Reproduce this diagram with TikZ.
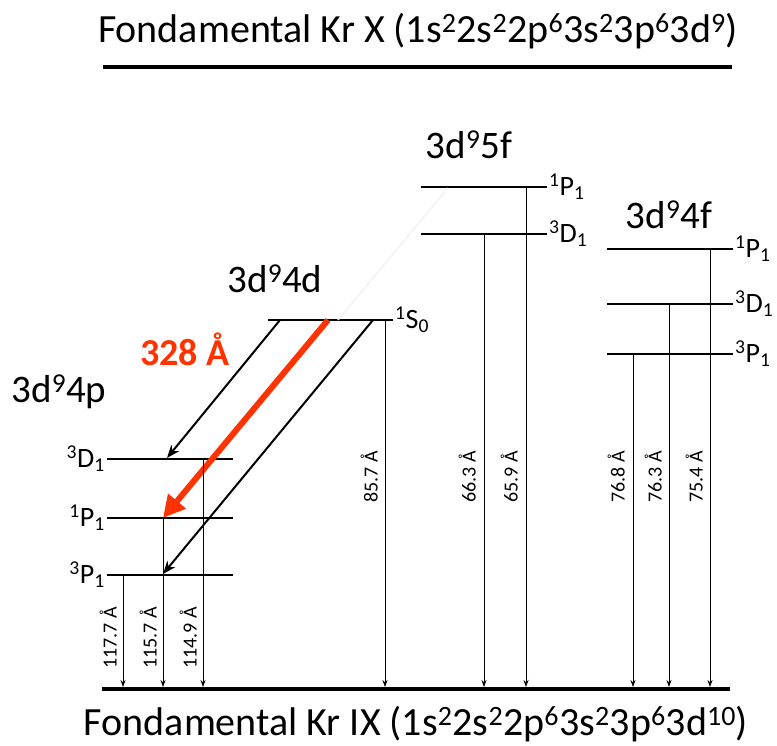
\documentclass[tikz,border=0pt]{standalone}
\usepackage{fontspec}
\setmainfont{Carlito}
\usetikzlibrary{arrows.meta}
\definecolor{laserred}{RGB}{255,51,0}
\newcommand{\up}[1]{\textsuperscript{#1}}
\begin{document}
\begin{tikzpicture}[x=1pt,y=-1pt,
	level/.style={ line width=1.1pt },
	ground/.style={ line width=4pt },
	title/.style={ font=\fontsize{40}{42}\selectfont, anchor=base, inner sep=0pt },
	config/.style={ font=\fontsize{39}{42}\selectfont, anchor=base, inner sep=0pt },
	term/.style={ font=\fontsize{28}{30}\selectfont, inner sep=2pt },
	wave/.style={ font=\fontsize{20}{22}\selectfont, rotate=90, anchor=south, inner sep=0pt },
	decay/.style={ -{Stealth[length=7pt,width=5pt]}, line width=0.7pt, shorten >=2pt },
	cascade/.style={ -{Stealth[length=13pt,width=10pt]}, line width=2pt },
	laser/.style={ laserred, -{Triangle[length=22pt,width=22pt]}, line width=6pt }
]
	\useasboundingbox (0,0) rectangle (777,745);
	\node at (418,42) (kr10) [title] {Fondamental Kr X (1s\up{2}2s\up{2}2p\up{6}3s\up{2}3p\up{6}3d\up{9})};
	\node at (416,735) (kr9) [title] {Fondamental Kr IX (1s\up{2}2s\up{2}2p\up{6}3s\up{2}3p\up{6}3d\up{10})};
	\coordinate (ion0) at (103,67);
	\coordinate (ion1) at (732,67);
	\coordinate (gnd0) at (102,689);
	\coordinate (gnd1) at (730,689);
	\draw[ground] (ion0) -- (ion1);
	\draw[ground] (gnd0) -- (gnd1);

	\node at (59,402) (c4p) [config] {3d\up{9}4p};
	\node at (275,292) (c4d) [config] {3d\up{9}4d};
	\node at (469,158) (c5f) [config] {3d\up{9}5f};
	\node at (669,228) (c4f) [config] {3d\up{9}4f};

	\coordinate (p4D1a) at (107,459);
	\coordinate (p4D1b) at (233,459);
	\coordinate (p4P1a) at (107,518);
	\coordinate (p4P1b) at (233,518);
	\coordinate (p4T1a) at (107,575);
	\coordinate (p4T1b) at (233,575);
	\coordinate (d4S0a) at (268,320);
	\coordinate (d4S0b) at (393,320);
	\coordinate (f5P1a) at (421,187);
	\coordinate (f5P1b) at (547,187);
	\coordinate (f5D1a) at (421,234);
	\coordinate (f5D1b) at (547,234);
	\coordinate (f4P1a) at (607,249);
	\coordinate (f4P1b) at (733,249);
	\coordinate (f4D1a) at (607,304);
	\coordinate (f4D1b) at (733,304);
	\coordinate (f4T1a) at (607,354);
	\coordinate (f4T1b) at (733,354);
	\foreach \lv in {p4D1,p4P1,p4T1,d4S0,f5P1,f5D1,f4P1,f4D1,f4T1}
		\draw[level] (\lv a) -- (\lv b);

	\node at (p4D1a) (tp4D1) [term,anchor=east] {\up{3}D\textsubscript{1}};
	\node at (p4P1a) (tp4P1) [term,anchor=east] {\up{1}P\textsubscript{1}};
	\node at (p4T1a) (tp4T1) [term,anchor=east] {\up{3}P\textsubscript{1}};
	\node at (d4S0b) (td4S0) [term,anchor=west] {\up{1}S\textsubscript{0}};
	\node at (f5P1b) (tf5P1) [term,anchor=west] {\up{1}P\textsubscript{1}};
	\node at (f5D1b) (tf5D1) [term,anchor=west] {\up{3}D\textsubscript{1}};
	\node at (f4P1b) (tf4P1) [term,anchor=west] {\up{1}P\textsubscript{1}};
	\node at (f4D1b) (tf4D1) [term,anchor=west] {\up{3}D\textsubscript{1}};
	\node at (f4T1b) (tf4T1) [term,anchor=west] {\up{3}P\textsubscript{1}};

	\draw[black!5, line width=1.5pt] (338,320) -- (448,188);

	\coordinate (s1) at (280,320);
	\coordinate (s2) at (328,320);
	\coordinate (s3) at (373,320);
	\coordinate (e1) at (167,458);
	\coordinate (e2) at (163,518);
	\coordinate (e3) at (163,574);
	\draw[cascade] (s1) -- (e1);
	\draw[cascade] (s3) -- (e3);
	\draw[laser] (s2) -- (e2);
	\node at (185,365) (lam) [font=\bfseries\fontsize{38}{40}\selectfont, text=laserred, anchor=base, inner sep=0pt] {328 Å};

	\coordinate (v1) at (123,575);
	\coordinate (v2) at (163,518);
	\coordinate (v3) at (203,459);
	\coordinate (v4) at (385,320);
	\coordinate (v5) at (484,234);
	\coordinate (v6) at (526,187);
	\coordinate (v7) at (633,354);
	\coordinate (v8) at (669,304);
	\coordinate (v9) at (710,249);
	\foreach \v in {1,...,9}
		\draw[decay] (v\v) -- (v\v |- gnd0);

	\node at (117,638) (w1) [wave] {117.7 Å};
	\node at (157,638) (w2) [wave] {115.7 Å};
	\node at (197,638) (w3) [wave] {114.9 Å};
	\node at (378,477) (w4) [wave] {85.7 Å};
	\node at (476,477) (w5) [wave] {66.3 Å};
	\node at (518,477) (w6) [wave] {65.9 Å};
	\node at (625,477) (w7) [wave] {76.8 Å};
	\node at (662,477) (w8) [wave] {76.3 Å};
	\node at (703,477) (w9) [wave] {75.4 Å};
\end{tikzpicture}
\end{document}
